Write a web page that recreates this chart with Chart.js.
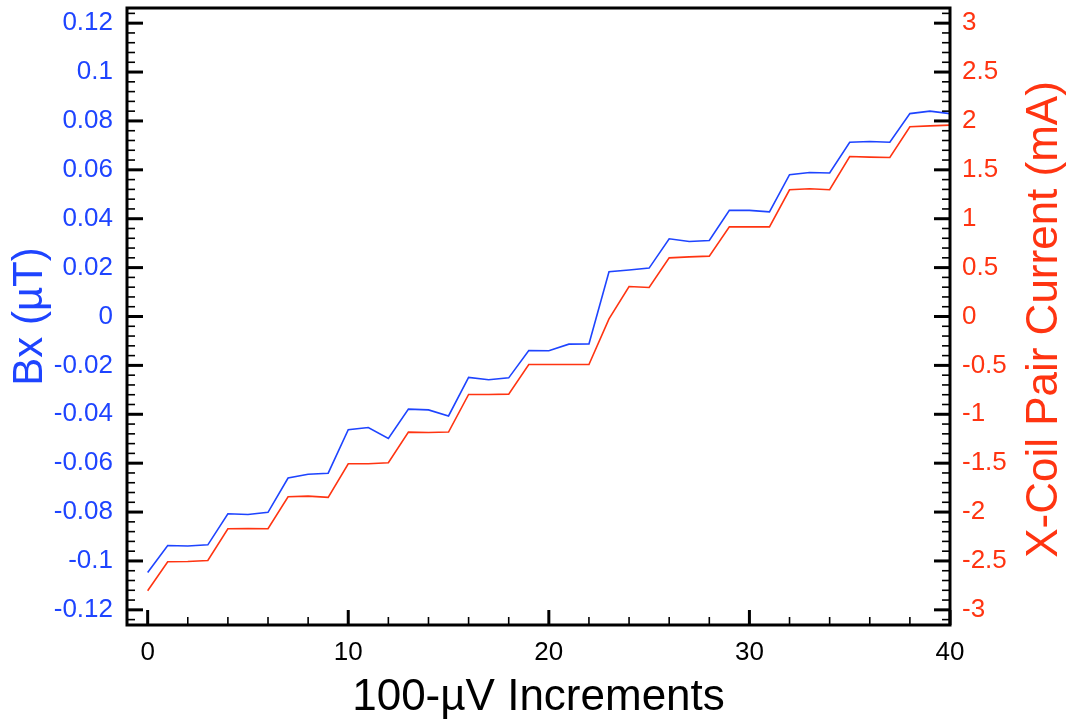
<!DOCTYPE html>
<html><head><meta charset="utf-8">
<script src="https://cdn.jsdelivr.net/npm/chart.js@4"></script>
<style>html,body{margin:0;padding:0;background:#fff}#wrap{width:1073px;height:723px}</style>
</head><body><div id="wrap"><canvas id="c" width="1073" height="723"></canvas></div>
<script>
const increments = [0,1,2,3,4,5,6,7,8,9,10,11,12,13,14,15,16,17,18,19,20,21,22,23,24,25,26,27,28,29,30,31,32,33,34,35,36,37,38,39,40];
const bx = [-0.1047,-0.0937,-0.0939,-0.0934,-0.0807,-0.0810,-0.0801,-0.0661,-0.0645,-0.0641,-0.0463,-0.0454,-0.0499,-0.0379,-0.0382,-0.0407,-0.0249,-0.0259,-0.0251,-0.0139,-0.0140,-0.0113,-0.0112,0.0183,0.0190,0.0198,0.0318,0.0307,0.0311,0.0434,0.0434,0.0428,0.0580,0.0589,0.0587,0.0713,0.0716,0.0713,0.0830,0.0840,0.0830];
const current = [-2.805,-2.508,-2.505,-2.495,-2.171,-2.168,-2.171,-1.844,-1.837,-1.850,-1.506,-1.506,-1.496,-1.182,-1.186,-1.182,-0.797,-0.797,-0.794,-0.491,-0.491,-0.491,-0.491,-0.024,0.307,0.297,0.600,0.610,0.617,0.917,0.917,0.917,1.296,1.306,1.296,1.636,1.630,1.626,1.940,1.950,1.957];
const bxTickLabels = ['-0.12','-0.1','-0.08','-0.06','-0.04','-0.02','0','0.02','0.04','0.06','0.08','0.1','0.12'];
const currentTickLabels = ['-3','-2.5','-2','-1.5','-1','-0.5','0','0.5','1','1.5','2','2.5','3'];
const xTickLabels = ['0','10','20','30','40'];

const BLUE = '#1e44ff', RED = '#ff3411';
const FONT = "'Liberation Sans', Arial, Helvetica, sans-serif";

function minorTicks(lo, hi, step){ const out=[]; const n=Math.round((hi-lo)/step); for(let k=0;k<=n;k++) out.push(+(lo+k*step).toFixed(6)); return out; }
const bxTicks = minorTicks(-0.124, 0.124, 0.004);
const curTicks = minorTicks(-3.1, 3.1, 0.1);
const xTicks = minorTicks(0, 40, 2);

function majorLabel(labels, v){ for(const l of labels){ if(Math.abs(parseFloat(l)-v)<1e-6) return l; } return null; }

const tickPlugin = {
  id:'tickPlugin',
  afterDraw(chart){
    const ctx=chart.ctx; const {left,right,top,bottom}=chart.chartArea;
    ctx.save(); ctx.strokeStyle='#000'; ctx.lineCap='butt';
    const yl=chart.scales.yB, yr=chart.scales.yI, xs=chart.scales.x;
    yl.ticks.forEach(t=>{const y=yl.getPixelForValue(t.value); const m=majorLabel(bxTickLabels,t.value)!==null;
      ctx.lineWidth=m?3:1.6; ctx.beginPath(); ctx.moveTo(left,y); ctx.lineTo(left+(m?16:8),y); ctx.stroke();});
    yr.ticks.forEach(t=>{const y=yr.getPixelForValue(t.value); const m=majorLabel(currentTickLabels,t.value)!==null;
      ctx.lineWidth=m?3:1.6; ctx.beginPath(); ctx.moveTo(right,y); ctx.lineTo(right-(m?16:8),y); ctx.stroke();});
    xs.ticks.forEach(t=>{const x=xs.getPixelForValue(t.value); const m=majorLabel(xTickLabels,t.value)!==null;
      ctx.lineWidth=m?3:1.6; ctx.beginPath(); ctx.moveTo(x,bottom); ctx.lineTo(x,bottom-(m?15:8)); ctx.stroke();});
    ctx.lineWidth=3; ctx.strokeRect(left,top,right-left,bottom-top);
    // right axis title (reads bottom to top)
    ctx.fillStyle=RED; ctx.font='44px '+FONT; ctx.textAlign='center'; ctx.textBaseline='middle';
    ctx.translate(1045,(top+bottom)/2+3); ctx.rotate(-Math.PI/2);
    ctx.fillText('X-Coil Pair Current (mA)',0,0);
    ctx.restore();
  }
};

new Chart(document.getElementById('c'), {
  type:'line',
  data:{ datasets:[
    {label:'Bx', data:increments.map((x,i)=>({x:x,y:bx[i]})), yAxisID:'yB', borderColor:BLUE, borderWidth:1.6, pointRadius:0, tension:0, fill:false},
    {label:'Current', data:increments.map((x,i)=>({x:x,y:current[i]})), yAxisID:'yI', borderColor:RED, borderWidth:1.6, pointRadius:0, tension:0, fill:false}
  ]},
  options:{
    responsive:false, animation:false, devicePixelRatio:1,
    layout:{padding:{top:8,left:0,right:0,bottom:0}},
    plugins:{legend:{display:false}, tooltip:{enabled:false}},
    scales:{
      x:{type:'linear', position:'bottom', min:-1.03, max:40,
        afterBuildTicks:s=>{s.ticks=xTicks.map(v=>({value:v}));},
        afterFit:s=>{s.height=98; s.paddingLeft=0; s.paddingRight=0;},
        grid:{display:false, drawTicks:false}, border:{display:false},
        ticks:{autoSkip:false, maxRotation:0, padding:12, color:'#000', font:{family:FONT,size:26}, callback:v=>majorLabel(xTickLabels,v)||''},
        title:{display:true, text:'100-µV Increments', color:'#000', font:{family:FONT,size:44}, padding:{top:0,bottom:-1}}
      },
      yB:{type:'linear', position:'left', min:-0.1262, max:0.1262,
        afterBuildTicks:s=>{s.ticks=bxTicks.map(v=>({value:v}));},
        afterFit:s=>{s.width=127; s.paddingTop=0; s.paddingBottom=0;},
        grid:{display:false, drawTicks:false}, border:{display:false},
        ticks:{autoSkip:false, padding:14, color:BLUE, font:{family:FONT,size:26}, callback:v=>majorLabel(bxTickLabels,v)||''},
        title:{display:true, text:'Bx (µT)', color:BLUE, font:{family:FONT,size:42}, padding:{top:5,bottom:0}}
      },
      yI:{type:'linear', position:'right', min:-3.155, max:3.155,
        afterBuildTicks:s=>{s.ticks=curTicks.map(v=>({value:v}));},
        afterFit:s=>{s.width=123; s.paddingTop=0; s.paddingBottom=0;},
        grid:{display:false, drawTicks:false}, border:{display:false},
        ticks:{autoSkip:false, padding:12, color:RED, font:{family:FONT,size:26}, callback:v=>majorLabel(currentTickLabels,v)||''},
        title:{display:false}
      }
    }
  },
  plugins:[tickPlugin]
});
</script></body></html>
